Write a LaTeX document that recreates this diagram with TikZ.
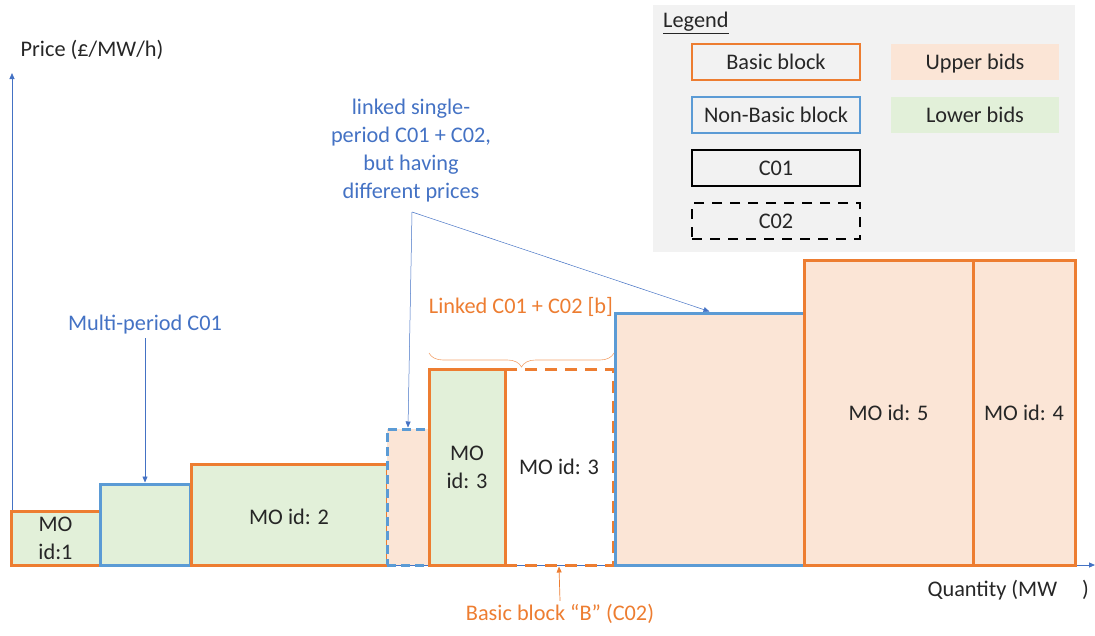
\documentclass[tikz,border=0pt]{standalone}
\usepackage{fontspec}
\setmainfont{Carlito}
\usetikzlibrary{arrows.meta,decorations.pathreplacing,fit}
\definecolor{orng}{HTML}{ED7D31}
\definecolor{blu}{HTML}{5B9BD5}
\definecolor{tblu}{HTML}{4472C4}
\definecolor{pnk}{HTML}{FBE5D6}
\definecolor{grn}{HTML}{E2F0D9}
\definecolor{lgray}{HTML}{F2F2F2}
\definecolor{txt}{HTML}{262626}
\begin{document}
\begin{tikzpicture}[x=1pt,y=-1pt,
  font=\fontsize{22.3}{28}\selectfont, text=txt,
  blk/.style={inner sep=0pt, line width=3pt},
  basic/.style={blk, draw=orng},
  nonbasic/.style={blk, draw=blu},
  upper/.style={fill=pnk},
  lower/.style={fill=grn},
  bluedash/.style={dash pattern=on 9pt off 5pt},
  orngdash/.style={dash pattern=on 12pt off 8pt},
  lbl/.style={align=center, inner sep=0pt},
  axis/.style={draw=tblu, line width=0.8pt, -{Triangle[length=6pt,width=5pt]}},
  thinarr/.style={line width=0.7pt, -{Triangle[length=6pt,width=5pt]}},
  bluelbl/.style={text=tblu, align=center},
  orlbl/.style={text=orng, align=center},
  legbox/.style={blk, line width=2.6pt},
  legfill/.style={inner sep=0pt}
]
\useasboundingbox (0,0) rectangle (1095,635);

% legend background
\node[fill=lgray, inner sep=0pt, fit={(653,5)(1075,252)}] (legbg) {};
\node[anchor=west, inner sep=0pt] (legt) at (663,23) {\underline{Legend}};
\node[legbox, draw=orng, fit={(692,44)(860,80)}] (lb1) {};
\node[legbox, draw=blu, fit={(692,97)(860,133)}] (lb2) {};
\node[legbox, draw=black, fit={(692,150)(860,186)}] (lb3) {};
\node[legbox, draw=black, dash pattern=on 10pt off 8pt, fit={(692,203)(860,239)}] (lb4) {};
\node[legfill, fill=pnk, fit={(891,44)(1059,80)}] (lu) {};
\node[legfill, fill=grn, fit={(891,97)(1059,133)}] (ll) {};
\node[lbl] (lb1t) at (lb1) {Basic block};
\node[lbl] (lb2t) at (lb2) {Non-Basic block};
\node[lbl] (lb3t) at (lb3) {C01};
\node[lbl] (lb4t) at (lb4) {C02};
\node[lbl] (lut) at ([yshift=-2pt]lu.center) {Upper bids};
\node[lbl] (llt) at (ll) {Lower bids};

% axes
\coordinate (o) at (12,565);
\coordinate (ytop) at (12,73);
\coordinate (xend) at (1095,565);
\draw[axis] (o) -- (ytop);
\draw[axis] (o) -- (xend);
\node (ylab) at (92,50) {Price (£/MW/h)};
\node[anchor=west] (xlab) at (924,590) {Quantity (MW\hspace{25pt})};

% blocks
\node[basic, lower, fit={(11,511)(100,565)}] (mo1) {};
\node[nonbasic, lower, fit={(100,484)(190,565)}] (nb1) {};
\node[basic, lower, fit={(191,464)(387,565)}] (mo2) {};
\node[nonbasic, upper, bluedash, fit={(387,429)(429,565)}] (nb2) {};
\node[basic, fill=white, orngdash, fit={(505,369)(613,565)}] (mo3b) {};
\node[basic, lower, fit={(429,369)(505,565)}] (mo3a) {};
\node[nonbasic, upper, fit={(615,313)(804,565)}] (nb3) {};
\node[basic, upper, fit={(804,260)(973,565)}] (mo5) {};
\node[basic, upper, fit={(973,260)(1075,565)}] (mo4) {};
\node[lbl] (mo1t) at (mo1) {MO\\id:1};
\node[lbl] (mo2t) at ([yshift=-2pt]mo2.center) {MO id: 2};
\node[lbl] (mo3at) at (mo3a) {MO\\id: 3};
\node[lbl] (mo3bt) at (mo3b) {MO id: 3};
\node[lbl] (mo5t) at (mo5) {MO id: 5};
\node[lbl] (mo4t) at (mo4) {MO id: 4};

% annotations
\node[bluelbl] (mp) at (145,325) {Multi-period C01};
\draw[thinarr, draw=tblu] (mp.south) -- (nb1.north);

\node[bluelbl] (ls) at (411,151) {linked single-\\period C01 + C02,\\but having\\different prices};
\coordinate (apex) at (412,212);
\draw[thinarr, draw=tblu, line width=0.5pt] (apex) -- (nb2.north);
\draw[thinarr, draw=tblu, line width=0.5pt] (apex) -- (nb3.north);

\node[orlbl] (lk) at (521,307) {Linked C01 + C02 [b]};
\coordinate (brl) at (429,353);
\coordinate (brr) at (614,353);
\draw[orng!70, line width=0.6pt, decorate, decoration={brace, amplitude=14pt, mirror}] (brl) -- (brr);

\node[orlbl] (bb) at (560,614) {Basic block “B” (C02)};
\draw[thinarr, draw=orng] (bb.north) -- (mo3b.south);
\end{tikzpicture}
\end{document}
